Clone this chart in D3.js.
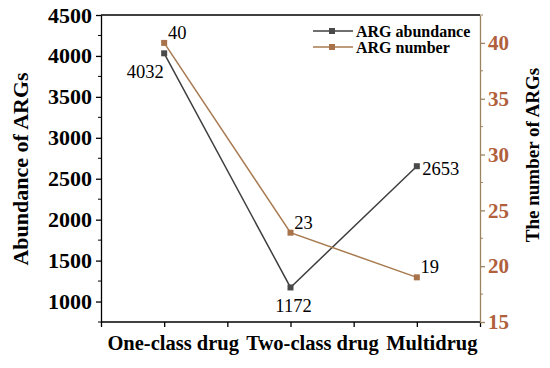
<!DOCTYPE html>
<meta charset="utf-8">
<style>
  body { margin: 0; background: #fff; }
  text { font-family: "Liberation Serif", "Times New Roman", serif; }
  .tick text { font-weight: bold; }
</style>
<body>
<script src="https://d3js.org/d3.v7.min.js"></script>
<script>
var categories = ["One-class drug", "Two-class drug", "Multidrug"];
var abundance = [4032, 1172, 2653];
var argNumber = [40, 23, 19];
var leftTicks = [1000, 1500, 2000, 2500, 3000, 3500, 4000, 4500];
var rightTicks = [15, 20, 25, 30, 35, 40];

var width = 550, height = 368;
var m = {left: 101, right: 70, top: 15, bottom: 46};
var gray = "#3f3f3f", brown = "#a87a4f", brownAxis = "#9c8461", brownText = "#b0603c";

var svg = d3.select("body").append("svg")
  .attr("width", width).attr("height", height);

var x = d3.scaleLinear().domain([0.5, 3.5]).range([m.left, width - m.right]);
var yL = d3.scaleLinear().domain([750, 4500]).range([height - m.bottom, m.top]);
var yR = d3.scaleLinear().domain([15, 42.5]).range([height - m.bottom, m.top]);

// top frame line
svg.append("line")
  .attr("x1", x(0.5)).attr("x2", x(3.5))
  .attr("y1", m.top).attr("y2", m.top)
  .attr("stroke", "#000").attr("stroke-width", 1.3);

// bottom axis
var gx = svg.append("g").attr("transform", "translate(0," + (height - m.bottom) + ")");
gx.call(d3.axisBottom(x).tickValues([0.5, 1, 1.5, 2, 2.5, 3, 3.5]).tickSize(5).tickFormat(""));
gx.selectAll("path, line").attr("stroke", "#000").attr("stroke-width", 1.3);
gx.select(".domain").attr("d", "M" + x(0.5) + ",0H" + x(3.5));
var catDx = [9, 22, 15];
gx.selectAll(".cat").data(categories).join("text")
  .attr("class", "cat")
  .attr("x", function(d, i) { return x(i + 1) + catDx[i]; })
  .attr("y", 28)
  .attr("text-anchor", "middle")
  .attr("font-size", 20.5).attr("font-weight", "bold").attr("fill", "#000")
  .text(function(d) { return d; });

// left axis
var gl = svg.append("g").attr("transform", "translate(" + m.left + ",0)");
gl.call(d3.axisLeft(yL).tickValues(leftTicks).tickSize(5).tickSizeOuter(0).tickFormat(d3.format("d")));
gl.selectAll(".tick text").attr("font-size", 22).attr("fill", "#000").attr("x", -9);
gl.selectAll("path, line").attr("stroke", "#000").attr("stroke-width", 1.3);
gl.selectAll(".minor").data(d3.range(750, 4500, 250).filter(function(v) { return v % 500 !== 0; }))
  .join("line").attr("class", "minor")
  .attr("x1", -3).attr("x2", 0)
  .attr("y1", function(d) { return yL(d); }).attr("y2", function(d) { return yL(d); })
  .attr("stroke", "#000").attr("stroke-width", 1);

// right axis
var gr = svg.append("g").attr("transform", "translate(" + (width - m.right) + ",0)");
gr.call(d3.axisRight(yR).tickValues(rightTicks).tickSize(5).tickSizeOuter(0));
gr.selectAll(".tick text").attr("font-size", 21).attr("fill", brownText).attr("x", 8);
gr.selectAll("path, line").attr("stroke", brownAxis).attr("stroke-width", 1.3);
gr.selectAll(".minor").data([17.5, 22.5, 27.5, 32.5, 37.5, 42.5])
  .join("line").attr("class", "minor")
  .attr("x1", 0).attr("x2", 3)
  .attr("y1", function(d) { return yR(d); }).attr("y2", function(d) { return yR(d); })
  .attr("stroke", brownAxis).attr("stroke-width", 1);

// axis titles
svg.append("text")
  .attr("transform", "translate(28,169) rotate(-90)")
  .attr("text-anchor", "middle")
  .attr("font-size", 22).attr("font-weight", "bold")
  .text("Abundance of ARGs");
svg.append("text")
  .attr("transform", "translate(539,155) rotate(-90)")
  .attr("text-anchor", "middle")
  .attr("font-size", 19).attr("font-weight", "bold")
  .text("The number of ARGs");

// lines
var lineL = d3.line().x(function(d, i) { return x(i + 1); }).y(function(d) { return yL(d); });
var lineR = d3.line().x(function(d, i) { return x(i + 1); }).y(function(d) { return yR(d); });

svg.append("path").datum(abundance).attr("d", lineL)
  .attr("fill", "none").attr("stroke", gray).attr("stroke-width", 1.5);
svg.append("path").datum(argNumber).attr("d", lineR)
  .attr("fill", "none").attr("stroke", brown).attr("stroke-width", 1.5);

var s = 6;
svg.selectAll(".mL").data(abundance).join("rect").attr("class", "mL")
  .attr("x", function(d, i) { return x(i + 1) - s / 2; })
  .attr("y", function(d) { return yL(d) - s / 2; })
  .attr("width", s).attr("height", s).attr("fill", "#4a4a4a");
svg.selectAll(".mR").data(argNumber).join("rect").attr("class", "mR")
  .attr("x", function(d, i) { return x(i + 1) - s / 2; })
  .attr("y", function(d) { return yR(d) - s / 2; })
  .attr("width", s).attr("height", s).attr("fill", "#a8734a");

// value labels
var offL = [[-19, 25], [3, 25], [24, 9]];
var offR = [[13, -4], [13, -4], [13, -4]];
svg.selectAll(".lL").data(abundance).join("text").attr("class", "lL")
  .attr("x", function(d, i) { return x(i + 1) + offL[i][0]; })
  .attr("y", function(d, i) { return yL(d) + offL[i][1]; })
  .attr("text-anchor", "middle").attr("font-size", 18.5)
  .text(function(d) { return d; });
svg.selectAll(".lR").data(argNumber).join("text").attr("class", "lR")
  .attr("x", function(d, i) { return x(i + 1) + offR[i][0]; })
  .attr("y", function(d, i) { return yR(d) + offR[i][1]; })
  .attr("text-anchor", "middle").attr("font-size", 18.5)
  .text(function(d) { return d; });

// legend
var legend = [{name: "ARG abundance", color: gray, mark: "#4a4a4a"}, {name: "ARG number", color: brown, mark: "#a8734a"}];
var lg = svg.selectAll(".leg").data(legend).join("g").attr("class", "leg")
  .attr("transform", function(d, i) { return "translate(313," + (31 + i * 16) + ")"; });
lg.append("line").attr("x1", 0).attr("x2", 40).attr("stroke", function(d) { return d.color; }).attr("stroke-width", 1.5);
lg.append("rect").attr("x", 16).attr("y", -3).attr("width", 6).attr("height", 6).attr("fill", function(d) { return d.mark; });
lg.append("text").attr("x", 43).attr("y", 5.5).attr("font-size", 16).attr("font-weight", "bold")
  .text(function(d) { return d.name; });
</script>
</body>
